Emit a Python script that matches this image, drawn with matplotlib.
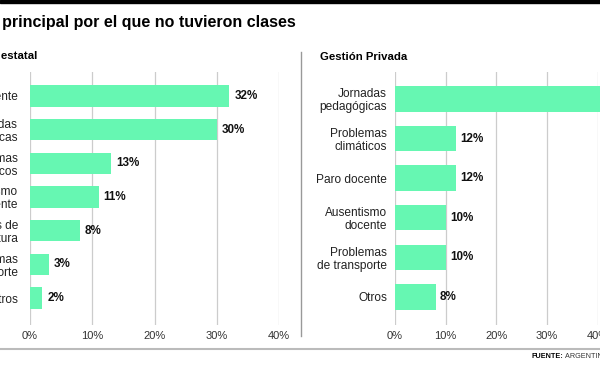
import matplotlib
matplotlib.use('Agg')
import matplotlib.pyplot as plt

plt.rcParams['font.family'] = ['Liberation Sans', 'DejaVu Sans']

# Gestión estatal
estatal_labels = ['Paro docente', 'Jornadas\npedagógicas', 'Problemas\nclimáticos',
                  'Ausentismo\ndocente', 'Problemas de\ninfraestructura',
                  'Problemas\nde transporte', 'Otros']
estatal_values = [32, 30, 13, 11, 8, 3, 2]

# Gestión privada
privada_labels = ['Jornadas\npedagógicas', 'Problemas\nclimáticos', 'Paro docente',
                  'Ausentismo\ndocente', 'Problemas\nde transporte', 'Otros']
privada_values = [46, 12, 12, 10, 10, 8]

xticks = [0, 10, 20, 30, 40]
xtick_labels = ['0%', '10%', '20%', '30%', '40%']

BAR = '#66F7B2'
W, H = 600, 365

fig = plt.figure(figsize=(6, 3.65), dpi=100)


def px_axes(x0, y0, x1, y1):
    # pixel box (top-left origin) -> figure axes
    return fig.add_axes([x0 / W, 1 - y1 / H, (x1 - x0) / W, (y1 - y0) / H])


def panel(ax, labels, values, ylim, label_pad):
    pos = list(range(len(values)))
    ax.barh(pos, values, height=0.64, color=BAR, zorder=2, clip_on=False)
    ax.set_xlim(0, 40)
    ax.set_ylim(*ylim)
    ax.set_xticks(xticks)
    ax.set_xticklabels(xtick_labels)
    ax.set_yticks(pos)
    ax.set_yticklabels(labels, fontsize=8.6, color='#222222', linespacing=1.1)
    ax.tick_params(axis='y', length=0, pad=label_pad)
    ax.tick_params(axis='x', length=0, pad=4, labelsize=8, labelcolor='#333333')
    ax.grid(axis='x', color='#cccccc', linewidth=0.9, zorder=0)
    for s in ax.spines.values():
        s.set_visible(False)
    for p, v in zip(pos, values):
        ax.text(v + 0.8, p, f'{v}%', va='center', ha='left', fontsize=8.4,
                fontweight='bold', color='#111111')


ax1 = px_axes(30, 72, 279.2, 325)
panel(ax1, estatal_labels, estatal_values, (6.8, -0.71), 8.6)

ax2 = px_axes(395, 72, 597.8, 325)
panel(ax2, privada_labels, privada_values, (5.71, -0.68), 5.8)

# top black band
fig.add_artist(plt.Rectangle((0, 1 - 3 / H), 1, 3 / H, color='black',
                             transform=fig.transFigure))
fig.text(296 / W, 1 - 22 / H, 'Motivo principal por el que no tuvieron clases',
         fontsize=11.5, fontweight='bold', va='center', ha='right')
fig.text(37 / W, 1 - 56 / H, 'Gestión estatal', fontsize=8.2, fontweight='bold',
         va='center', ha='right')
fig.text(320 / W, 1 - 57 / H, 'Gestión Privada', fontsize=8.2, fontweight='bold',
         va='center', ha='left')

# divider between panels
fig.add_artist(plt.Line2D([301 / W, 301 / W], [1 - 52 / H, 1 - 336 / H],
                          color='#999999', linewidth=1))
# footer
fig.add_artist(plt.Line2D([0, 1], [1 - 349 / H, 1 - 349 / H],
                          color='#bbbbbb', linewidth=1.5))
src = fig.text(531 / W, 1 - 357 / H, 'FUENTE:', fontsize=5.2, fontweight='bold',
               va='center', ha='left')
fig.canvas.draw()
bb = src.get_window_extent()
fig.text((bb.x1 + 2) / W, 1 - 357 / H, 'ARGENTINOS POR LA EDUCACIÓN', fontsize=5.2,
         va='center', ha='left', color='#333333')

fig.savefig('out.png', dpi=100)
